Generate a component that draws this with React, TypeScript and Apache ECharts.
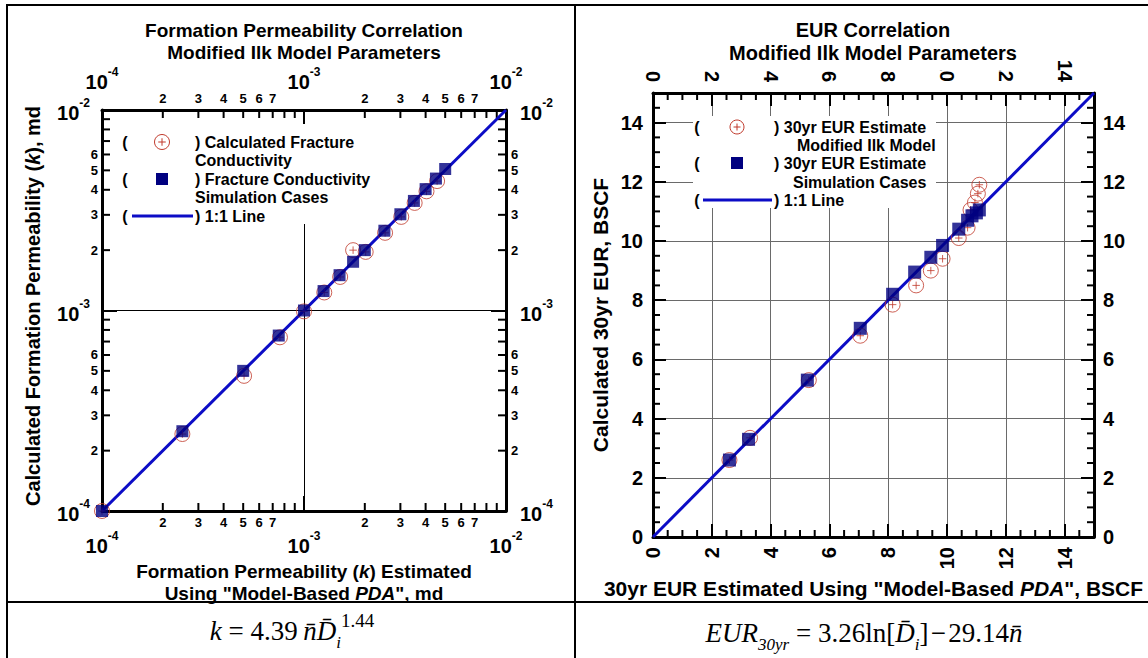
import React, { useEffect, useRef } from 'react';
import * as echarts from 'echarts';

const FONT = '"Liberation Sans", Arial, Helvetica, sans-serif';
const SERIF = '"Liberation Serif", "Times New Roman", Times, serif';

const NAVY = '#000080';
const LINE_BLUE = '#0c0cc6';
const RED = '#c0392b';
const GRID_GRAY = '#6a6a6a';

// ---- Formation permeability correlation (md, log-log) ----
const K_MIN = 1e-4;
const K_MAX = 1e-2;
const kSimEstimated = [1e-4, 2.5e-4, 5e-4, 7.5e-4, 1e-3, 1.25e-3, 1.5e-3, 1.75e-3, 2e-3, 2.5e-3, 3e-3, 3.5e-3, 4e-3, 4.5e-3, 5e-3];
const kSimCalculated = [1e-4, 2.5e-4, 5e-4, 7.5e-4, 1e-3, 1.25e-3, 1.5e-3, 1.75e-3, 2e-3, 2.5e-3, 3.02e-3, 3.52e-3, 4.03e-3, 4.55e-3, 5.08e-3];
const kIlkEstimated = [1e-4, 2.5e-4, 5.05e-4, 7.6e-4, 1e-3, 1.26e-3, 1.51e-3, 1.75e-3, 2.02e-3, 2.52e-3, 3.03e-3, 3.53e-3, 4.04e-3, 4.56e-3];
const kIlkCalculated = [1e-4, 2.42e-4, 4.72e-4, 7.35e-4, 0.99e-3, 1.23e-3, 1.47e-3, 2.0e-3, 1.96e-3, 2.44e-3, 2.93e-3, 3.44e-3, 3.93e-3, 4.42e-3];
const kUnity = [K_MIN, K_MAX];
const kMinorTicks = [2e-4, 3e-4, 4e-4, 5e-4, 6e-4, 7e-4, 8e-4, 9e-4, 2e-3, 3e-3, 4e-3, 5e-3, 6e-3, 7e-3, 8e-3, 9e-3];
// mantissa labels: the horizontal axes run to 7, the vertical ones to 6
const kMinorLabelsX = ['2', '3', '4', '5', '6', '7', '', '', '2', '3', '4', '5', '6', '7', '', ''];
const kMinorLabelsY = ['2', '3', '4', '5', '6', '', '', '', '2', '3', '4', '5', '6', '', '', ''];

// ---- 30-year EUR correlation (BSCF) ----
const EUR_MIN = 0;
const EUR_MAX = 15;
const EUR_STEP = 2;
const eurSimEstimated = [2.6, 3.25, 5.25, 7.05, 8.15, 8.9, 9.45, 9.85, 10.4, 10.7, 10.85, 11.0, 11.1];
const eurSimCalculated = [2.6, 3.3, 5.3, 7.05, 8.2, 8.95, 9.45, 9.85, 10.4, 10.7, 10.85, 10.95, 11.05];
const eurIlkEstimated = [2.6, 3.3, 5.3, 7.05, 8.15, 8.95, 9.45, 9.85, 10.4, 10.7, 10.8, 10.95, 11.05, 11.1];
const eurIlkCalculated = [2.6, 3.35, 5.3, 6.8, 7.85, 8.5, 9.0, 9.4, 10.1, 10.45, 11.05, 11.3, 11.6, 11.9];
const eurUnity = [EUR_MIN, EUR_MAX];
const eurMinorTicks = [0.5, 1, 1.5, 2.5, 3, 3.5, 4.5, 5, 5.5, 6.5, 7, 7.5, 8.5, 9, 9.5, 10.5, 11, 11.5, 12.5, 13, 13.5, 14.5];

// Plot rectangles
const LEFT_GRID = { left: 102, top: 110, width: 404, height: 401 };
const RIGHT_GRID = { left: 653, top: 93, width: 441, height: 444 };

const CIRCLE_PLUS = 'path://M10,0A10,10,0,1,1,-10,0A10,10,0,1,1,10,0ZM-5,0L5,0M0,-5L0,5';

const pairs = (xs: number[], ys: number[]) => xs.map((x, i) => [x, ys[i]]);

const bold = (size: number, extra: any = {}) => ({
  fontSize: size,
  fontWeight: 'bold',
  fontFamily: FONT,
  color: '#000',
  ...extra,
});

// "10^n" labels for the decade ticks
const powerLabel = (v: number) => `{b|10}{s|${Math.round(Math.log10(v))}}`;
const powerRich = {
  b: bold(20, { lineHeight: 26, verticalAlign: 'bottom' }),
  s: bold(12, { lineHeight: 12, verticalAlign: 'top' }),
};

const axisLineStyle = { onZero: false, lineStyle: { color: '#000', width: 3 } };

function logAxis(gridIndex: number, position: string, margin: number, extra: any = {}) {
  return {
    type: 'log',
    logBase: 10,
    gridIndex,
    position,
    min: K_MIN,
    max: K_MAX,
    splitNumber: 2,
    axisLine: axisLineStyle,
    axisTick: { show: true, inside: true, length: 15, lineStyle: { color: '#000', width: 2 } },
    minorTick: { show: false },
    splitLine: { show: false },
    axisLabel: { formatter: powerLabel, rich: powerRich, margin },
    ...extra,
  };
}

function eurAxis(gridIndex: number, position: string, extra: any = {}) {
  return {
    type: 'value',
    gridIndex,
    position,
    min: EUR_MIN,
    max: EUR_MAX,
    interval: EUR_STEP,
    axisLine: axisLineStyle,
    axisTick: { show: true, inside: true, length: 13, lineStyle: { color: '#000', width: 2 } },
    minorTick: { show: false },
    splitLine: { show: false },
    axisLabel: { ...bold(20), margin: 10, showMaxLabel: false },
    ...extra,
  };
}

const tickStroke = { stroke: '#000', lineWidth: 2 };

function tickText(x: number, y: number, align: string, text: string) {
  return {
    type: 'text',
    x,
    y,
    style: {
      text,
      fill: '#000',
      fontSize: 13,
      fontWeight: 'bold',
      fontFamily: FONT,
      align,
      textAlign: align,
      verticalAlign: 'middle',
      textVerticalAlign: 'middle',
    },
  };
}

// Intermediate log ticks (2..9 of each decade) on all four sides of the left plot
const renderLogMinor = (params: any, api: any) => {
  const v = api.value(0);
  const labelX = kMinorLabelsX[params.dataIndex];
  const labelY = kMinorLabelsY[params.dataIndex];
  const b = api.coord([v, K_MIN]);
  const t = api.coord([v, K_MAX]);
  const l = api.coord([K_MIN, v]);
  const r = api.coord([K_MAX, v]);
  const len = 8;
  return {
    type: 'group',
    children: [
      { type: 'line', shape: { x1: b[0], y1: b[1], x2: b[0], y2: b[1] - len }, style: tickStroke },
      { type: 'line', shape: { x1: t[0], y1: t[1], x2: t[0], y2: t[1] + len }, style: tickStroke },
      { type: 'line', shape: { x1: l[0], y1: l[1], x2: l[0] + len, y2: l[1] }, style: tickStroke },
      { type: 'line', shape: { x1: r[0], y1: r[1], x2: r[0] - len, y2: r[1] }, style: tickStroke },
      tickText(b[0], b[1] + 11, 'center', labelX),
      tickText(t[0], t[1] - 12, 'center', labelX),
      tickText(l[0] - 4, l[1], 'right', labelY),
      tickText(r[0] + 5, r[1], 'left', labelY),
    ],
  };
};

// Half-unit ticks on all four sides of the right plot
const renderEurMinor = (_params: any, api: any) => {
  const v = api.value(0);
  const b = api.coord([v, EUR_MIN]);
  const t = api.coord([v, EUR_MAX]);
  const l = api.coord([EUR_MIN, v]);
  const r = api.coord([EUR_MAX, v]);
  const len = 7;
  return {
    type: 'group',
    children: [
      { type: 'line', shape: { x1: b[0], y1: b[1], x2: b[0], y2: b[1] - len }, style: tickStroke },
      { type: 'line', shape: { x1: t[0], y1: t[1], x2: t[0], y2: t[1] + len }, style: tickStroke },
      { type: 'line', shape: { x1: l[0], y1: l[1], x2: l[0] + len, y2: l[1] }, style: tickStroke },
      { type: 'line', shape: { x1: r[0], y1: r[1], x2: r[0] - len, y2: r[1] }, style: tickStroke },
    ],
  };
};

function text(x: number, y: number, str: string, size: number, extra: any = {}, z = 20) {
  const align = extra.align || 'left';
  const valign = extra.verticalAlign || 'middle';
  return {
    type: 'text',
    x,
    y,
    z,
    style: {
      text: str,
      fill: '#000',
      fontSize: size,
      fontWeight: 'bold',
      fontFamily: FONT,
      ...extra,
      align,
      textAlign: align,
      verticalAlign: valign,
      textVerticalAlign: valign,
    },
  };
}

function rule(x1: number, y1: number, x2: number, y2: number, width = 2) {
  return { type: 'line', z: 30, shape: { x1, y1, x2, y2 }, style: { stroke: '#000', lineWidth: width } };
}

function circlePlusIcon(cx: number, cy: number, r: number) {
  const s = { stroke: RED, lineWidth: 1, fill: 'none' };
  return [
    { type: 'circle', z: 20, shape: { cx, cy, r }, style: s },
    { type: 'line', z: 20, shape: { x1: cx - r / 2, y1: cy, x2: cx + r / 2, y2: cy }, style: s },
    { type: 'line', z: 20, shape: { x1: cx, y1: cy - r / 2, x2: cx, y2: cy + r / 2 }, style: s },
  ];
}

function squareIcon(cx: number, cy: number, size: number) {
  return { type: 'rect', z: 20, shape: { x: cx - size / 2, y: cy - size / 2, width: size, height: size }, style: { fill: NAVY } };
}

function lineIcon(x1: number, x2: number, y: number) {
  return { type: 'line', z: 20, shape: { x1, y1: y, x2, y2: y }, style: { stroke: LINE_BLUE, lineWidth: 3 } };
}

function whiteBox(x: number, y: number, width: number, height: number, z = 1) {
  return { type: 'rect', z, shape: { x, y, width, height }, style: { fill: '#fff' } };
}

const LEG = 16;

const legendLeft = [
  whiteBox(118, 124, 255, 100),
  text(125, 142, '(', LEG, { align: 'center' }),
  ...circlePlusIcon(162, 142, 7.5),
  text(195, 133, ') Calculated Fracture\nConductivity', LEG, { verticalAlign: 'top', lineHeight: 18.5 }),
  text(125, 179, '(', LEG, { align: 'center' }),
  squareIcon(162, 179, 12),
  text(195, 170, ') Fracture Conductivity\nSimulation Cases', LEG, { verticalAlign: 'top', lineHeight: 18.5 }),
  text(125, 216, '(', LEG, { align: 'center' }),
  lineIcon(132, 193, 216),
  text(195, 216, ') 1:1 Line', LEG),
];

const legendRight = [
  whiteBox(693, 116, 243, 92),
  text(697, 127, '(', LEG, { align: 'center' }),
  ...circlePlusIcon(737, 127, 7),
  text(774, 127, ') 30yr EUR Estimate', LEG),
  text(797, 145, 'Modified Ilk Model', LEG),
  text(697, 163, '(', LEG, { align: 'center' }),
  squareIcon(737, 163, 12),
  text(774, 163, ') 30yr EUR Estimate', LEG),
  text(793, 182, 'Simulation Cases', LEG),
  text(697, 200, '(', LEG, { align: 'center' }),
  lineIcon(703, 772, 200),
  text(774, 200, ') 1:1 Line', LEG),
];

const mathRich = {
  n: { fontSize: 27, fontFamily: SERIF, color: '#000', lineHeight: 40 },
  i: { fontSize: 27, fontFamily: SERIF, fontStyle: 'italic', color: '#000', lineHeight: 40 },
  sub: { fontSize: 17, fontFamily: SERIF, fontStyle: 'italic', color: '#000', lineHeight: 17, verticalAlign: 'bottom' },
  sup: { fontSize: 19, fontFamily: SERIF, color: '#000', lineHeight: 19, verticalAlign: 'top' },
};

function formula(x: number, y: number, str: string) {
  return {
    type: 'text',
    x,
    y,
    z: 20,
    style: {
      text: str,
      rich: mathRich,
      fill: '#000',
      fontSize: 27,
      fontFamily: SERIF,
      align: 'center',
      textAlign: 'center',
      verticalAlign: 'middle',
      textVerticalAlign: 'middle',
    },
  };
}

const nameRich = (size: number) => ({
  n: bold(size, { lineHeight: 22 }),
  i: bold(size, { lineHeight: 22, fontStyle: 'italic' }),
});

function buildOption() {
  return {
    animation: false,
    backgroundColor: '#fff',
    textStyle: { fontFamily: FONT },
    grid: [
      { ...LEFT_GRID, containLabel: false, outerBoundsMode: 'none' },
      { ...RIGHT_GRID, containLabel: false, outerBoundsMode: 'none' },
    ],
    xAxis: [
      logAxis(0, 'bottom', 19, {
        splitLine: { show: true, lineStyle: { color: '#000', width: 1 } },
        name: '{n|Formation Permeability (}{i|k}{n|) Estimated}\n{n|Using "Model-Based }{i|PDA}{n|", md}',
        nameLocation: 'middle',
        nameGap: 46,
        nameTextStyle: { ...bold(19), lineHeight: 22, rich: nameRich(19) },
      }),
      logAxis(0, 'top', 18),
      eurAxis(1, 'bottom', {
        axisLabel: { ...bold(20), margin: 10, rotate: 90, showMaxLabel: false },
        splitLine: { show: true, lineStyle: { color: GRID_GRAY, width: 1 } },
        name: '{n|30yr EUR Estimated Using "Model-Based }{i|PDA}{n|", BSCF}',
        nameLocation: 'middle',
        nameGap: 37,
        nameTextStyle: { ...bold(21), lineHeight: 22, rich: nameRich(21) },
      }),
      eurAxis(1, 'top', {
        axisLabel: { ...bold(20), margin: 11, rotate: 90, showMaxLabel: false },
      }),
    ],
    yAxis: [
      logAxis(0, 'left', 12, {
        splitLine: { show: true, lineStyle: { color: '#000', width: 1 } },
        name: '{n|Calculated Formation Permeability (}{i|k}{n|), md}',
        nameLocation: 'middle',
        nameGap: 58,
        nameTextStyle: { ...bold(20), lineHeight: 22, rich: nameRich(20), padding: [0, 0, 0, 9] },
      }),
      logAxis(0, 'right', 14),
      eurAxis(1, 'left', {
        splitLine: { show: true, lineStyle: { color: GRID_GRAY, width: 1 } },
        name: 'Calculated 30yr EUR, BSCF',
        nameLocation: 'middle',
        nameGap: 42,
        nameTextStyle: { ...bold(21), lineHeight: 22 },
      }),
      eurAxis(1, 'right', { axisLabel: { ...bold(20), margin: 9, showMaxLabel: false } }),
    ],
    series: [
      {
        type: 'custom',
        xAxisIndex: 0,
        yAxisIndex: 0,
        silent: true,
        clip: false,
        z: 3,
        data: kMinorTicks.map((v) => [v, v]),
        renderItem: renderLogMinor,
      },
      {
        name: '1:1 Line',
        type: 'line',
        xAxisIndex: 0,
        yAxisIndex: 0,
        data: pairs(kUnity, kUnity),
        symbol: 'none',
        lineStyle: { color: LINE_BLUE, width: 3 },
        z: 4,
      },
      {
        name: 'Calculated Fracture Conductivity',
        type: 'scatter',
        xAxisIndex: 0,
        yAxisIndex: 0,
        clip: false,
        data: pairs(kIlkEstimated, kIlkCalculated),
        symbol: CIRCLE_PLUS,
        symbolSize: 15,
        symbolKeepAspect: true,
        itemStyle: { color: 'rgba(255,255,255,0)', borderColor: RED, borderWidth: 1 },
        z: 5,
      },
      {
        name: 'Fracture Conductivity Simulation Cases',
        type: 'scatter',
        xAxisIndex: 0,
        yAxisIndex: 0,
        clip: false,
        data: pairs(kSimEstimated, kSimCalculated),
        symbol: 'rect',
        symbolSize: 12,
        itemStyle: { color: NAVY },
        z: 6,
      },
      {
        type: 'custom',
        xAxisIndex: 2,
        yAxisIndex: 2,
        silent: true,
        clip: false,
        z: 3,
        data: eurMinorTicks.map((v) => [v, v]),
        renderItem: renderEurMinor,
      },
      {
        name: '1:1 Line',
        type: 'line',
        xAxisIndex: 2,
        yAxisIndex: 2,
        data: pairs(eurUnity, eurUnity),
        symbol: 'none',
        lineStyle: { color: LINE_BLUE, width: 3 },
        z: 4,
      },
      {
        name: '30yr EUR Estimate Modified Ilk Model',
        type: 'scatter',
        xAxisIndex: 2,
        yAxisIndex: 2,
        clip: false,
        data: pairs(eurIlkEstimated, eurIlkCalculated),
        symbol: CIRCLE_PLUS,
        symbolSize: 15,
        symbolKeepAspect: true,
        itemStyle: { color: 'rgba(255,255,255,0)', borderColor: RED, borderWidth: 1 },
        z: 5,
      },
      {
        name: '30yr EUR Estimate Simulation Cases',
        type: 'scatter',
        xAxisIndex: 2,
        yAxisIndex: 2,
        clip: false,
        data: pairs(eurSimEstimated, eurSimCalculated),
        symbol: 'rect',
        symbolSize: 13,
        itemStyle: { color: NAVY },
        z: 6,
      },
    ],
    graphic: {
      elements: [
        // table frame
        rule(6, 5, 1148, 5),
        rule(7, 4, 7, 658),
        rule(575, 4, 575, 658),
        rule(6, 602, 1148, 602),
        // titles
        text(304, 30, 'Formation Permeability Correlation', 19, { align: 'center' }),
        text(304, 52, 'Modified Ilk Model Parameters', 19, { align: 'center' }),
        whiteBox(665, 8, 375, 62, 10),
        text(873, 30, 'EUR Correlation', 20, { align: 'center' }),
        text(873, 53, 'Modified Ilk Model Parameters', 20, { align: 'center' }),
        ...legendLeft,
        ...legendRight,
        // correlations
        formula(292, 631, '{i|k}{n| = 4.39\u2009}{i|n\u0304D\u0304}{sub|i}{sup|1.44}'),
        formula(864, 633, '{i|EUR}{sub|30yr}{n| = 3.26ln[}{i|D\u0304}{sub|i}{n|]\u200a\u2212\u200a29.14}{i|n\u0304}'),
      ],
    },
  };
}

export default function App() {
  const ref = useRef<HTMLDivElement>(null);
  useEffect(() => {
    document.body.style.margin = '0';
    const chart = echarts.init(ref.current as HTMLDivElement, null, { renderer: 'svg' });
    chart.setOption(buildOption() as any);
    return () => chart.dispose();
  }, []);
  return (
    <div
      ref={ref}
      style={{ position: 'fixed', left: 0, top: 0, width: 1148, height: 658, background: '#fff' }}
    />
  );
}
